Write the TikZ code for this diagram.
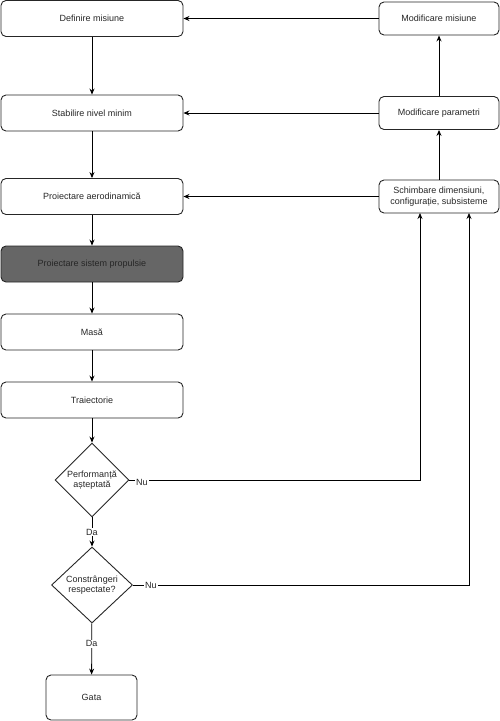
\documentclass[tikz,border=0pt]{standalone}
\usepackage{fontspec}
\setmainfont{Liberation Sans}
\usetikzlibrary{shapes.geometric,arrows.meta}
\definecolor{darkfill}{RGB}{102,102,102}
\begin{document}
\begin{tikzpicture}[x=1pt,y=-1pt,
  every node/.style={font=\fontsize{9}{10.5}\selectfont, text=black!85},
  lbox/.style={draw=black!85, line width=0.9pt, rounded corners=5pt, minimum width=182pt, minimum height=36pt, inner sep=0pt},
  rbox/.style={draw=black!85, line width=0.9pt, rounded corners=5pt, minimum width=120pt, minimum height=33pt, inner sep=0pt, align=center},
  dec/.style={draw=black!85, line width=0.9pt, shape=diamond, inner sep=0pt, align=center},
  conn/.style={draw=black, line width=0.8pt, -{Stealth[length=6pt,width=5pt]}},
  lbl/.style={fill=white, inner sep=1pt}
]
\useasboundingbox (0,0) rectangle (500,721);
\node[lbox] (def) at (92,18.5) {Definire misiune};
\node[lbox] (stab) at (92,113) {Stabilire nivel minim};
\node[lbox] (aero) at (92,196.5) {Proiectare aerodinamică};
\node[lbox, fill=darkfill] (prop) at (92,264) {Proiectare sistem propulsie};
\node[lbox] (masa) at (92,332) {Masă};
\node[lbox] (traj) at (92,400) {Traiectorie};
\node[dec, minimum width=74pt, minimum height=74pt] (perf) at (92,480) {Performanță\\așteptată};
\node[dec, minimum width=81pt, minimum height=76pt] (constr) at (92,585) {Constrângeri\\respectate?};
\node[lbox, minimum width=91pt, minimum height=45pt] (gata) at (91.5,697.5) {Gata};
\node[rbox] (mmis) at (439,18.5) {Modificare misiune};
\node[rbox] (mpar) at (439,113) {Modificare parametri};
\node[rbox] (sch) at (439,196.5) {Schimbare dimensiuni,\\configurație, subsisteme};
\coordinate (c1) at (420,480);
\coordinate (c2) at (469,585);
\coordinate (s1) at (420,213);
\coordinate (s2) at (469,213);

\draw[conn] (def) -- (stab);
\draw[conn] (stab) -- (aero);
\draw[conn] (aero) -- (prop);
\draw[conn] (prop) -- (masa);
\draw[conn] (masa) -- (traj);
\draw[conn] (traj) -- (perf);
\draw[conn] (perf) -- node[lbl] (da1) {Da} (constr);
\draw[conn] (constr) -- node[lbl, pos=0.4] (da2) {Da} (gata);
\draw[conn] (perf.east) -- (c1) -- (s1);
\draw[conn] (constr.east) -- (c2) -- (s2);
\node[lbl] (nu1) at (142,482) {Nu};
\node[lbl] (nu2) at (151,585) {Nu};
\draw[conn] (sch) -- (mpar);
\draw[conn] (mpar) -- (mmis);
\draw[conn] (mmis.west) -- (mmis.west -| def.east);
\draw[conn] (mpar.west) -- (mpar.west -| stab.east);
\draw[conn] (sch.west) -- (sch.west -| aero.east);
\end{tikzpicture}
\end{document}
